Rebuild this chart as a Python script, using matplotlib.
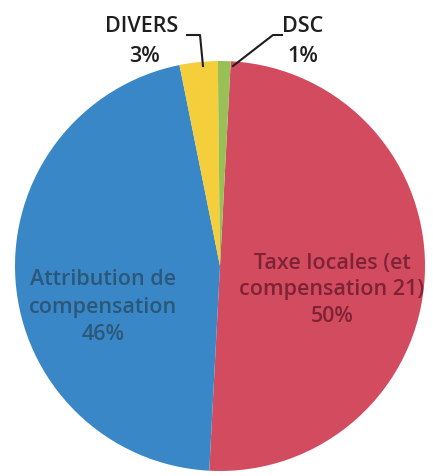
import matplotlib

matplotlib.use("Agg")
import matplotlib.pyplot as plt

# Budget breakdown (%), clockwise from the top
labels = ["Taxe locales (et\ncompensation 21)", "Attribution de\ncompensation", "DIVERS", "DSC"]
values = [50, 46, 3, 1]
colors = ["#D24B5F", "#3A87C8", "#F5CE3C", "#98C056"]
text_colors = ["#7E2336", "#2B5878", "#1E1E1E", "#1E1E1E"]

W, H = 433, 476
CX, CY, R = 220, 266, 205  # pie centre and radius in pixels (from top-left)

fig = plt.figure(figsize=(W / 100, H / 100), dpi=100)
ax = fig.add_axes([(CX - R) / W, (H - CY - R) / H, 2 * R / W, 2 * R / H])

ax.pie(values, colors=colors, startangle=87, counterclock=False, radius=1,
       wedgeprops={"linewidth": 0})
ax.set_xlim(-1, 1)
ax.set_ylim(-1, 1)
ax.axis("off")


def px(x, y):
    """pixel position -> data coords of the pie axes"""
    return (x - CX) / R, (CY - y) / R


font = {"family": "Open Sans", "fontsize": 15.5, "fontweight": "semibold"}

# inner labels
x, y = px(332, 290)
ax.text(x, y, f"{labels[0]}\n{values[0]}%", ha="center", va="center",
        color=text_colors[0], linespacing=1.32, **font)
x, y = px(103, 307)
ax.text(x, y, f"{labels[1]}\n{values[1]}%", ha="center", va="center",
        color=text_colors[1], linespacing=1.42, **font)

# outer labels with leader lines
for i, (lx, pxx) in zip((2, 3), ((142, 144), (303, 303))):
    x, y = px(lx, 26)
    ax.text(x, y, labels[i], ha="center", va="center", color=text_colors[i],
            clip_on=False, **font)
    x, y = px(pxx, 56)
    ax.text(x, y, f"{values[i]}%", ha="center", va="center", color=text_colors[i],
            clip_on=False, **font)

for pts in ([(187, 35), (200, 35), (203, 66)], [(282, 35), (273, 35), (233, 66)]):
    xs, ys = zip(*[px(a, b) for a, b in pts])
    ax.plot(xs, ys, color="#1E1E1E", linewidth=1.5, clip_on=False)

fig.savefig("out.png", dpi=100)
